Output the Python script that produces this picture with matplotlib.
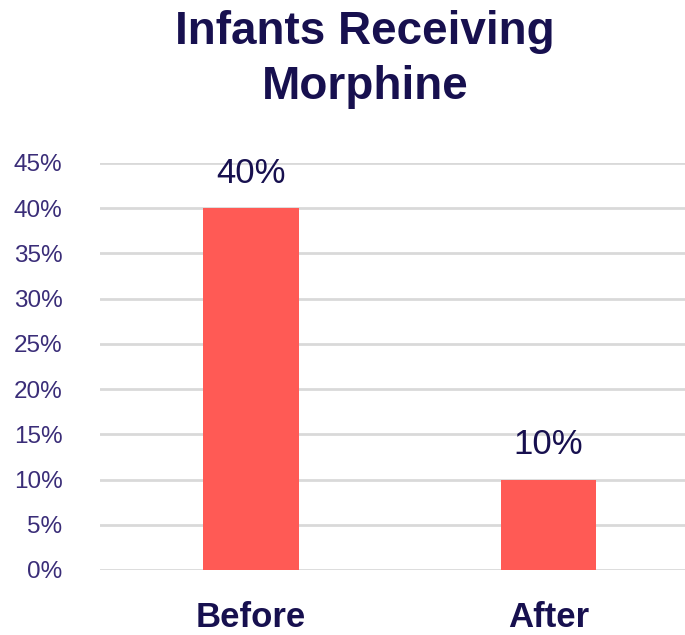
import matplotlib.pyplot as plt
from matplotlib.ticker import FuncFormatter

categories = ["Before", "After"]
values = [0.40, 0.10]
yticks = [0.00, 0.05, 0.10, 0.15, 0.20, 0.25, 0.30, 0.35, 0.40, 0.45]

navy = "#17104f"
tick_col = "#3a2d78"
bar_col = "#ff5a55"
grid_col = "#d9d9d9"

plt.rcParams["font.family"] = ["Liberation Sans", "DejaVu Sans"]

fig = plt.figure(figsize=(6.85, 6.35), dpi=100)
ax = fig.add_axes([0.146, 0.1024, 0.854, 0.641])

x = range(len(categories))
bars = ax.bar(x, values, width=0.32, color=bar_col, zorder=3)
for b, v in zip(bars, values):
    ax.annotate(f"{v:.0%}", (b.get_x() + b.get_width() / 2, v),
                xytext=(0, 13), textcoords="offset points",
                ha="center", va="bottom", fontsize=25, color=navy)

ax.set_xlim(-0.508, 1.46)
ax.set_ylim(0, 0.45)
ax.set_yticks(yticks)
ax.yaxis.set_major_formatter(FuncFormatter(lambda v, _: f"{v:.0%}"))
ax.set_xticks(list(x))
ax.set_xticklabels(categories, fontsize=25, fontweight="bold", color=navy)
ax.tick_params(axis="x", length=0, pad=22)
ax.tick_params(axis="y", length=0, pad=27, labelsize=17.5, labelcolor=tick_col)
ax.grid(axis="y", color=grid_col, lw=2, zorder=0)
for s in ax.spines.values():
    s.set_visible(False)

fig.text(0.533, 0.985, "Infants Receiving\nMorphine", ha="center", va="top",
         fontsize=33, fontweight="bold", color=navy, linespacing=1.35)

fig.savefig("out.png", dpi=100)
